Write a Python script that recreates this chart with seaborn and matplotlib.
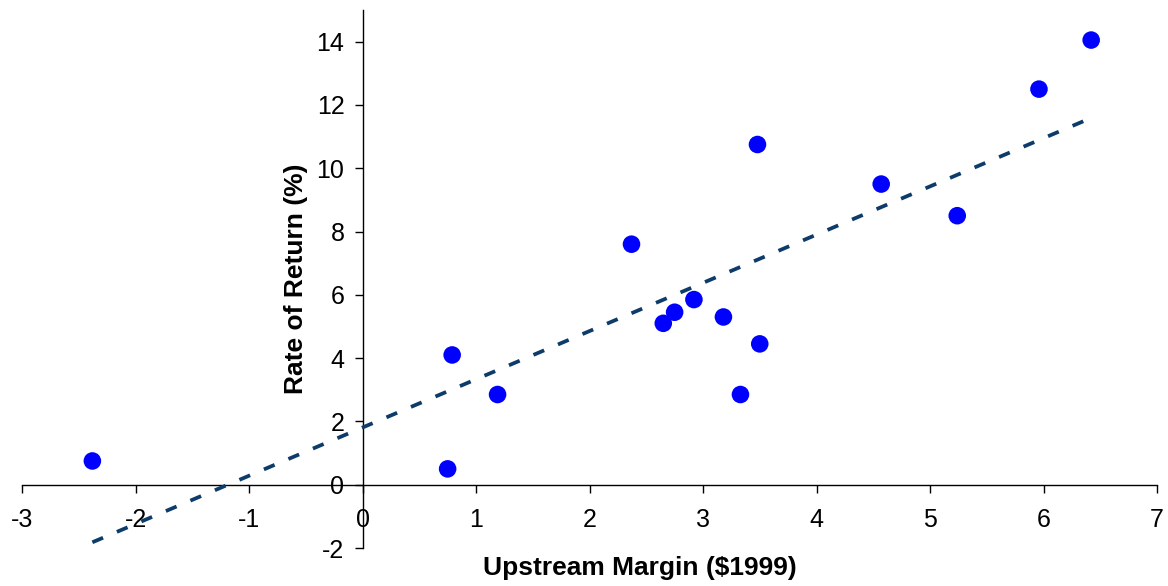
import numpy as np
import pandas as pd
import matplotlib
matplotlib.use("Agg")
import matplotlib.pyplot as plt
import seaborn as sns

# Data
upstream_margin = [-2.38, 0.75, 0.79, 1.19, 2.37, 2.65, 2.75, 2.92, 3.18, 3.33, 3.48, 3.50, 4.57, 5.24, 5.96, 6.42]
rate_of_return = [0.75, 0.50, 4.10, 2.85, 7.60, 5.10, 5.45, 5.85, 5.30, 2.85, 10.75, 4.45, 9.50, 8.50, 12.50, 14.05]
x_ticks = [-3, -2, -1, 0, 1, 2, 3, 4, 5, 6, 7]
y_ticks = [-2, 0, 2, 4, 6, 8, 10, 12, 14]

df = pd.DataFrame({"x": upstream_margin, "y": rate_of_return})

sns.set_theme(style="white")
plt.rcParams["font.family"] = ["Liberation Sans", "DejaVu Sans"]
plt.rcParams["axes.unicode_minus"] = False
plt.rcParams["text.color"] = "black"
plt.rcParams["axes.labelcolor"] = "black"
plt.rcParams["xtick.color"] = "black"
plt.rcParams["ytick.color"] = "black"

fig = plt.figure(figsize=(11.68, 5.86), dpi=100)
ax = fig.add_axes([22 / 1168, 1 - 548 / 586, 1135 / 1168, 538 / 586])

sns.regplot(data=df, x="x", y="y", ax=ax, ci=None, truncate=True,
            scatter_kws=dict(s=160, color="#0000FF", edgecolor="none", alpha=1, zorder=3),
            line_kws=dict(color="#0E3C6A", lw=2.7, dashes=(3.1, 4.0), zorder=4))

ax.set_xlim(-3, 7)
ax.set_ylim(-2, 15)
ax.set_xticks(x_ticks)
ax.set_yticks(y_ticks)

for side in ["top", "right"]:
    ax.spines[side].set_visible(False)
ax.spines["left"].set_position(("data", 0))
ax.spines["bottom"].set_position(("data", 0))
for side in ["left", "bottom"]:
    ax.spines[side].set_color("black")
    ax.spines[side].set_linewidth(1.0)

ax.tick_params(axis="x", direction="out", length=6, width=1, color="black",
               labelcolor="black", labelsize=18, pad=11, bottom=True)
ax.tick_params(axis="y", direction="out", length=6, width=1, color="black",
               labelcolor="black", labelsize=18, pad=7, left=True)

ax.set_xlabel("Upstream Margin ($1999)", fontsize=19, fontweight="bold", color="black")
ax.set_ylabel("Rate of Return (%)", fontsize=19, fontweight="bold", color="black")
ax.xaxis.set_label_coords((640 - 22) / 1135, (548 - 556) / 538)
ax.yaxis.set_label_coords((308 - 22) / 1135, 0.5)

fig.savefig("out.png", dpi=100)
